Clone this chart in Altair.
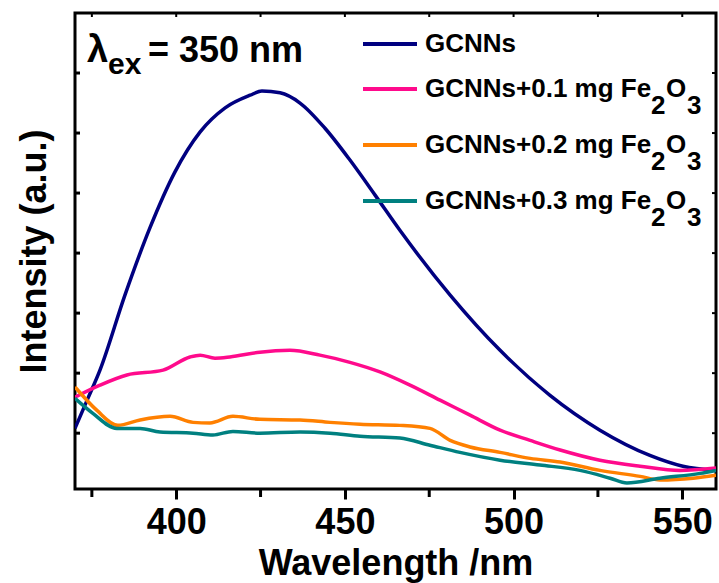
import altair as alt
import pandas as pd

FONT = "Liberation Sans"

# Photoluminescence spectra (excitation 350 nm), intensity in arbitrary units
wl_gcnns = [370.0, 373.6, 377.4, 384.8, 392.2, 399.6, 407.1, 414.5, 421.9, 425.4,
            430.8, 436.7, 444.1, 451.5, 458.9, 466.3, 481.2, 496.0, 510.8, 525.6,
            540.4, 550.2, 560.0]
int_gcnns = [0.08, 0.55, 1.05, 2.30, 3.42, 4.35, 5.02, 5.42, 5.63, 5.70,
             5.67, 5.50, 5.08, 4.55, 3.97, 3.38, 2.30, 1.38, 0.63, 0.05,
             -0.37, -0.55, -0.62]

wl_fe01 = [370.0, 377.4, 385.4, 396.1, 404.1, 407.1, 411.5, 415.9, 424.8, 433.7,
           442.6, 451.5, 460.4, 469.3, 478.2, 487.1, 496.0, 504.9, 513.8, 525.6,
           537.5, 549.3, 560.0]
int_fe01 = [0.60, 0.80, 0.97, 1.05, 1.27, 1.30, 1.25, 1.27, 1.35, 1.38,
            1.30, 1.18, 1.02, 0.80, 0.55, 0.30, 0.05, -0.12, -0.28, -0.45,
            -0.55, -0.62, -0.58]

wl_fe02 = [370.0, 376.5, 382.7, 389.3, 398.2, 405.0, 410.0, 416.8, 424.8, 436.7,
           445.6, 454.5, 466.3, 475.2, 481.2, 487.1, 496.0, 504.9, 513.8, 525.6,
           537.5, 543.4, 553.2, 560.0]
int_fe02 = [0.77, 0.38, 0.13, 0.22, 0.28, 0.18, 0.17, 0.28, 0.23, 0.22,
            0.18, 0.15, 0.13, 0.08, -0.12, -0.23, -0.32, -0.42, -0.48, -0.62,
            -0.72, -0.78, -0.75, -0.70]

wl_fe03 = [370.0, 375.3, 382.4, 389.3, 395.2, 405.0, 410.9, 416.8, 424.8, 436.7,
           445.6, 454.5, 466.3, 475.2, 484.1, 496.0, 507.8, 519.7, 528.6, 533.6,
           543.4, 555.3, 560.0]
int_fe03 = [0.58, 0.33, 0.08, 0.08, 0.02, 0.00, -0.03, 0.03, 0.00, 0.02,
            0.00, -0.05, -0.08, -0.20, -0.32, -0.45, -0.53, -0.62, -0.75, -0.83,
            -0.75, -0.67, -0.62]

series_names = ["GCNNs", "GCNNs+0.1 mg Fe2O3", "GCNNs+0.2 mg Fe2O3", "GCNNs+0.3 mg Fe2O3"]
series_colors = ["#000080", "#FF0A8C", "#FF8000", "#008080"]
series_wl = [wl_gcnns, wl_fe01, wl_fe02, wl_fe03]
series_int = [int_gcnns, int_fe01, int_fe02, int_fe03]

x_major = [400, 450, 500, 550]
x_minor = [375, 425, 475, 525]
x_all = [375, 400, 425, 450, 475, 500, 525, 550]
y_ticks = [0, 1, 2, 3, 4, 5, 6]

W, H = 641, 476

frames = []
for name, wl, iv in zip(series_names, series_wl, series_int):
    frames.append(pd.DataFrame({"wavelength": wl, "intensity": iv, "sample": name}))
spectra = pd.concat(frames, ignore_index=True)

x_scale = alt.Scale(domain=[370, 560], nice=False, zero=False)
y_scale = alt.Scale(domain=[-0.93, 7], nice=False, zero=False)

# one axis definition shared by every layer so the merged axes agree
x_axis = alt.Axis(values=x_major, title="Wavelength /nm", format="d",
                  tickSize=10, tickWidth=3, tickColor="black",
                  labelFont=FONT, labelFontSize=36, labelFontWeight="bold",
                  labelColor="black", labelBaseline="alphabetic", labelPadding=34,
                  domain=False, grid=False,
                  titleFont=FONT, titleFontSize=36, titleFontWeight="bold",
                  titleColor="black", titleBaseline="alphabetic",
                  titleX=W / 2, titleY=85)
y_axis = alt.Axis(title="Intensity (a.u.)", labels=False, ticks=False,
                  domain=False, grid=False,
                  titleFont=FONT, titleFontSize=36, titleFontWeight="bold",
                  titleColor="black", titleBaseline="alphabetic",
                  titleAngle=270, titleX=-30, titleY=H / 2)

X = alt.X("wavelength:Q", scale=x_scale, axis=x_axis)
Y = alt.Y("intensity:Q", scale=y_scale, axis=y_axis)

lines = alt.Chart(spectra).mark_line(strokeWidth=3.5, clip=True, interpolate="monotone").encode(
    x=X, y=Y,
    color=alt.Color("sample:N", scale=alt.Scale(domain=series_names, range=series_colors),
                    legend=None),
)

# minor ticks below the bottom frame
minor = alt.Chart(pd.DataFrame({"wavelength": x_minor})).mark_rule(
    color="black", strokeWidth=3, clip=False).encode(
    x=X, y=alt.value(H), y2=alt.value(H + 8))

# short inward ticks on the top frame
top_ticks = alt.Chart(pd.DataFrame({"wavelength": x_all})).mark_rule(
    color="black", strokeWidth=2).encode(
    x=X, y=alt.value(0), y2=alt.value(4))

# inward ticks on the left and right frames
yt = pd.DataFrame({"intensity": y_ticks})
left_ticks = alt.Chart(yt).mark_rule(color="black", strokeWidth=3).encode(
    y=Y, x=alt.value(0), x2=alt.value(5))
right_ticks = alt.Chart(yt).mark_rule(color="black", strokeWidth=2).encode(
    y=Y, x=alt.value(W - 4), x2=alt.value(W))

one = pd.DataFrame({"k": [0]})


def txt(s, x, y, size, baseline="alphabetic"):
    return alt.Chart(one).mark_text(
        align="left", baseline=baseline, font=FONT, fontSize=size,
        fontWeight="bold", color="black").encode(
        x=alt.value(x), y=alt.value(y), text=alt.value(s))


# excitation wavelength annotation
annot = [txt("λ", 12, 49, 38), txt("ex", 33, 61, 30), txt("= 350 nm", 73, 49, 36)]

# legend drawn as line samples with labels (subscripts lowered)
legend_rows = [31, 76, 132, 188]
legend_main = ["GCNNs", "GCNNs+0.1 mg Fe", "GCNNs+0.2 mg Fe", "GCNNs+0.3 mg Fe"]
legend_layers = []
for i, (row, label, col) in enumerate(zip(legend_rows, legend_main, series_colors)):
    legend_layers.append(alt.Chart(one).mark_rule(color=col, strokeWidth=4).encode(
        x=alt.value(288), x2=alt.value(342), y=alt.value(row)))
    legend_layers.append(txt(label, 350, row, 26, baseline="middle"))
    if i > 0:
        legend_layers.append(txt("2", 576, row + 17, 26, baseline="middle"))
        legend_layers.append(txt("O", 591, row, 26, baseline="middle"))
        legend_layers.append(txt("3", 612, row + 17, 26, baseline="middle"))

chart = alt.layer(lines, minor, top_ticks, left_ticks, right_ticks, *annot, *legend_layers).properties(
    width=W, height=H,
    autosize=alt.AutoSizeParams(type="none"),
    padding={"left": 75, "top": 13, "right": 3, "bottom": 94},
    background="white",
).configure_view(stroke="black", strokeWidth=3)

chart.save("out.html", embed_options={"renderer": "svg", "actions": False})
